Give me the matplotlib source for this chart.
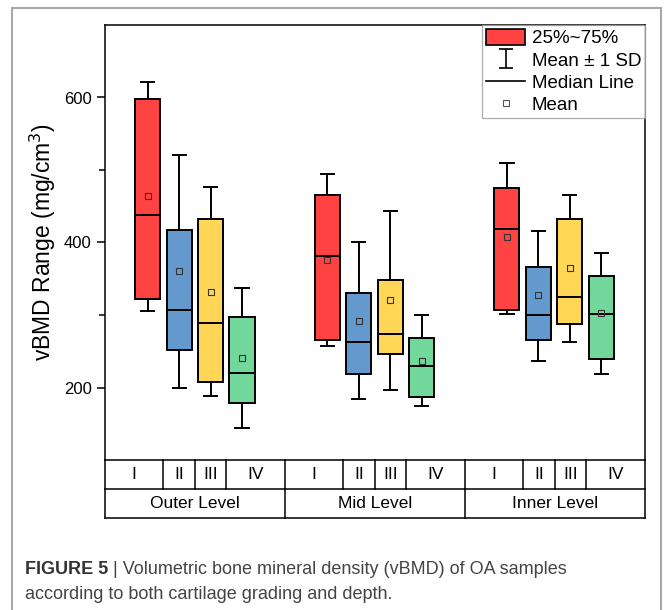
import matplotlib
matplotlib.use("Agg")
import matplotlib.pyplot as plt
from matplotlib.patches import Patch, Rectangle
from matplotlib.lines import Line2D
import numpy as np

plt.rcParams['font.family'] = ['Liberation Sans', 'DejaVu Sans']

# data (mg/cm3)
levels = ['Outer Level', 'Mid Level', 'Inner Level']
grades = ['I', 'II', 'III', 'IV']
colors = ['#FF4242', '#6499CE', '#FFD655', '#72D79A']

whis_hi = [622, 520, 476, 337, 494, 401, 444, 300, 510, 416, 465, 386]
q3      = [598, 417, 432, 297, 466, 330, 348, 268, 475, 366, 432, 354]
median  = [438, 307, 289, 220, 381, 263, 274, 230, 418, 300, 325, 301]
mean    = [464, 360, 332, 241, 376, 292, 321, 237, 407, 327, 365, 303]
q1      = [322, 252, 208, 179, 266, 219, 246, 187, 307, 265, 288, 239]
whis_lo = [305, 200, 188, 144, 257, 184, 196, 174, 302, 236, 263, 219]

# table column widths (fraction of a group, I / II / III / IV)
col_w = [58, 32, 31, 59]

W, H = 664, 610
fig = plt.figure(figsize=(W / 100, H / 100), dpi=100)
ax = fig.add_axes([105 / W, (H - 460) / H, 540 / W, 435 / H])

group_step = 5.717
positions = []
for g in range(3):
    for j in range(4):
        positions.append(g * group_step + j)

stats = []
for i in range(12):
    stats.append(dict(med=median[i], q1=q1[i], q3=q3[i], fliers=[],
                      whislo=whis_lo[i], whishi=whis_hi[i], mean=mean[i]))

bp = ax.bxp(stats, positions=positions, widths=0.8, capwidths=0.42,
            showmeans=True, showfliers=False, patch_artist=True,
            boxprops=dict(linewidth=1.4, edgecolor='black'),
            whiskerprops=dict(linewidth=1.4, color='black'),
            capprops=dict(linewidth=1.4, color='black'),
            medianprops=dict(linewidth=1.4, color='black'),
            meanprops=dict(marker='s', markersize=4.5, markerfacecolor='none',
                           markeredgecolor='#333333', markeredgewidth=0.8))
for i, b in enumerate(bp['boxes']):
    b.set_facecolor(colors[i % 4])

ax.set_xlim(-1.363, 15.83)
ax.set_ylim(100, 700)
ax.set_xticks([])
ax.set_yticks([200, 400, 600])
ax.set_yticks([300, 500], minor=True)
ax.tick_params(axis='y', which='major', length=6, width=1.1, labelsize=12, direction='out')
ax.tick_params(axis='y', which='minor', length=4, width=1.1, direction='out')
for s in ax.spines.values():
    s.set_linewidth(1.1)
ax.set_ylabel('vBMD Range (mg/cm$^3$)', fontsize=16.5, labelpad=4)

# category table under the axes
r1 = -29 / 435
r2 = -58 / 435
lk = dict(color='black', linewidth=1.1, transform=ax.transAxes, clip_on=False)
ax.plot([0, 1], [r1, r1], **lk)
ax.plot([0, 1], [r2, r2], **lk)
ax.plot([0, 0], [0, r2], **lk)
ax.plot([1, 1], [0, r2], **lk)
x0 = 0
for g in range(3):
    gx = x0
    for j in range(4):
        w = col_w[j] / 540
        ax.text(x0 + w / 2, r1 / 2, grades[j], ha='center', va='center',
                fontsize=12.5, transform=ax.transAxes)
        x0 += w
        if x0 < 0.999:
            ax.plot([x0, x0], [0, r1], **lk)
    ax.text((gx + x0) / 2, (r1 + r2) / 2, levels[g], ha='center', va='center',
            fontsize=12.5, transform=ax.transAxes)
    if x0 < 0.999:
        ax.plot([x0, x0], [r1, r2], **lk)

# legend
eb = ax.errorbar([np.nan], [np.nan], yerr=[1], fmt='none', ecolor='black',
                 elinewidth=1.2, capsize=5, capthick=1.2)
handles = [Patch(facecolor=colors[0], edgecolor='black', linewidth=1.2),
           eb,
           Line2D([], [], color='black', linewidth=1.2),
           Line2D([], [], linestyle='none', marker='s', markersize=4,
                  markerfacecolor='none', markeredgecolor='#555555', markeredgewidth=0.8)]
labels = ['25%~75%', 'Mean \u00b1 1 SD', 'Median Line', 'Mean']
leg = ax.legend(handles, labels, loc='upper right', bbox_to_anchor=(1.0, 1.0),
                fontsize=13.5, frameon=True, fancybox=False, borderpad=0.2,
                labelspacing=0.2, handlelength=2.1, handleheight=0.95,
                handletextpad=0.35, borderaxespad=0.0)
leg.get_frame().set_edgecolor('#999999')
leg.get_frame().set_linewidth(0.9)

# outer gray frame
fig.add_artist(Rectangle((12 / W, -0.05), (661 - 12) / W, (H - 8) / H + 0.05,
                         transform=fig.transFigure, fill=False,
                         edgecolor='#A8A8A8', linewidth=1.5))

# caption
t1 = fig.text(25 / W, (H - 578) / H, 'FIGURE 5', fontsize=13, fontweight='bold',
              color='#333333', va='bottom')
fig.text(25 / W, (H - 603) / H, 'according to both cartilage grading and depth.',
         fontsize=13, color='#444444', va='bottom')
ax.annotate(' | Volumetric bone mineral density (vBMD) of OA samples',
            xy=(1, 0), xycoords=t1, va='bottom', ha='left', fontsize=13,
            color='#444444', annotation_clip=False)

fig.savefig('out.png', dpi=100)
